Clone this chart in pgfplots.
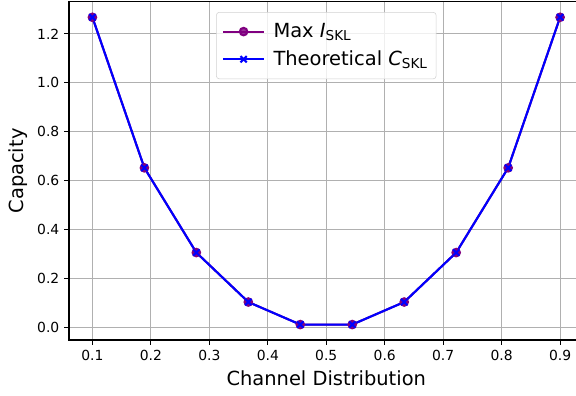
\documentclass[border=0pt]{standalone}
\usepackage{pgfplots}
\pgfplotsset{compat=1.18}
\usepackage{fontspec}
\setmainfont{DejaVu Sans}
\usetikzlibrary{calc}
\definecolor{mpurple}{HTML}{800080}
\definecolor{gridgray}{HTML}{B0B0B0}
\begin{document}
\begin{tikzpicture}
\begin{axis}[
  scale only axis,
  width=370.4pt, height=243.4pt,
  xmin=0.06, xmax=0.94,
  ymin=-0.0501, ymax=1.3307,
  xtick={0.1,0.2,0.3,0.4,0.5,0.6,0.7,0.8,0.9},
  ytick={0,0.2,0.4,0.6,0.8,1.0,1.2},
  xticklabel style={/pgf/number format/fixed,/pgf/number format/precision=1,/pgf/number format/fixed zerofill},
  yticklabel style={/pgf/number format/fixed,/pgf/number format/precision=1,/pgf/number format/fixed zerofill},
  /pgf/number format/assume math mode=true,
  tick label style={font=\fontsize{10}{12}\selectfont},
  tick align=outside,
  major tick length=3.5pt,
  xtick pos=bottom, ytick pos=left,
  every tick/.style={black, line width=0.8pt},
  axis line style={line width=0.8pt},
  grid=major,
  major grid style={gridgray, line width=0.8pt},
  xlabel={Channel Distribution},
  ylabel={Capacity},
  label style={font=\fontsize{14}{16}\selectfont},
  xlabel style={yshift=-1pt},
  ylabel style={yshift=0pt},
  legend style={at={(0.5,0.97)}, anchor=north, font=\fontsize{14}{16}\selectfont,
    draw=gray!35, rounded corners=2pt, fill=white, fill opacity=0.8, text opacity=1,
    row sep=4pt, column sep=4pt, inner xsep=4pt, inner ysep=6pt,
    nodes={inner sep=2pt}},
  legend cell align=left,
  legend image code/.code={\draw[mark repeat=2,mark phase=2] plot coordinates {(0cm,0cm)(0.52cm,0cm)(1.04cm,0cm)};},
]
\addplot[mpurple, line width=1.5pt, mark=*, mark size=2.7pt, mark options={solid}] coordinates {
(0.1,1.268) (0.18889,0.653) (0.27778,0.307) (0.36667,0.105) (0.45556,0.013)
(0.54444,0.013) (0.63333,0.105) (0.72222,0.307) (0.81111,0.653) (0.9,1.268)};
\addlegendentry{Max \textit{I}\textsubscript{SKL}}
\addplot[blue, line width=1.5pt, mark=x, mark size=3.2pt, mark options={solid}] coordinates {
(0.1,1.268) (0.18889,0.653) (0.27778,0.307) (0.36667,0.105) (0.45556,0.013)
(0.54444,0.013) (0.63333,0.105) (0.72222,0.307) (0.81111,0.653) (0.9,1.268)};
\addlegendentry{Theoretical \textit{C}\textsubscript{SKL}}
\end{axis}
\pgfresetboundingbox
\path[use as bounding box] ($(current axis.south west)+(-49.7pt,-40.3pt)$) rectangle ++(414.7pt,285.1pt);
\end{tikzpicture}
\end{document}
